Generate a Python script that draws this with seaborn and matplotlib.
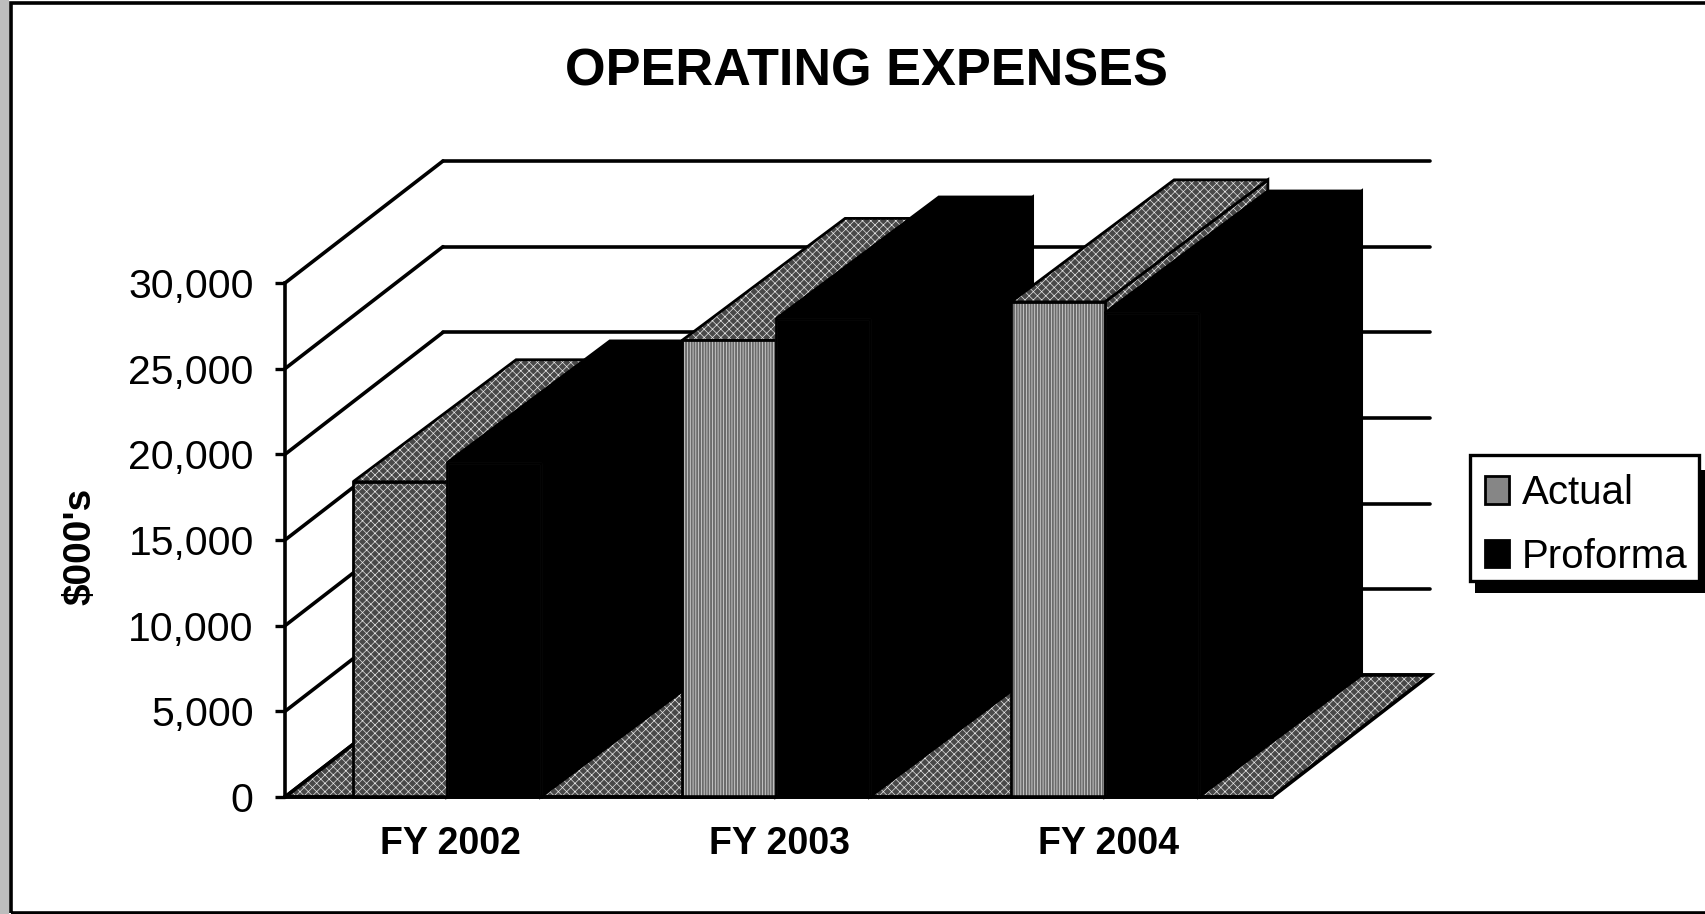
import matplotlib
matplotlib.use('Agg')
import matplotlib.pyplot as plt
import pandas as pd
import seaborn as sns
from matplotlib.patches import Patch, Polygon, Rectangle
from matplotlib.transforms import ScaledTranslation

# Chart values
years = ['FY 2002', 'FY 2003', 'FY 2004']
actual = [18400, 26650, 28900]
proforma = [19500, 27900, 28250]
y_ticks = [0, 5000, 10000, 15000, 20000, 25000, 30000]

GRAY = '#868686'
DITHER_BASE = '#484848'
DITHER_LINE = '#e6e6e6'
W, H = 1705, 914

df = pd.DataFrame({
    'year': years * 2,
    'series': ['Actual'] * 3 + ['Proforma'] * 3,
    'value': actual + proforma,
})

sns.set_style('white')
plt.rcParams['font.family'] = ['Liberation Sans', 'DejaVu Sans']
plt.rcParams['text.color'] = 'black'
plt.rcParams['hatch.linewidth'] = 0.5

fig = plt.figure(figsize=(W / 100, H / 100), dpi=100, facecolor='white')
# axes box is the front plane of the fake 3D chart
ax = fig.add_axes([285 / W, 1 - 797 / H, 987 / W, 514 / H])
ax.patch.set_alpha(0)

sns.barplot(data=df, x='year', y='value', hue='series',
            palette={'Actual': GRAY, 'Proforma': 'black'},
            width=0.57, gap=0, saturation=1, legend=False, ax=ax)
x_left, x_right = -0.492, 2.508
ax.set_xlim(x_left, x_right)
ax.set_ylim(0, 30000)

# bars from seaborn, left to right
bars = sorted(ax.patches, key=lambda p: p.get_x())
bars = [b for b in bars if b.get_height() > 0]

# depth of the 3D effect in data units
dx = 158 / 987 * 3
dx_bar = 163 / 987 * 3
dy = 122 / 514 * 30000


def add_face(pts, z, gray=True, lw=2.0):
    # stippled fill first, outline on top of it
    if gray:
        ax.add_patch(Polygon(pts, closed=True, facecolor=DITHER_BASE, edgecolor=DITHER_LINE,
                             linewidth=0, hatch='xxxx', clip_on=False, zorder=z))
    else:
        ax.add_patch(Polygon(pts, closed=True, facecolor='black', edgecolor='none',
                             clip_on=False, zorder=z))
    ax.add_patch(Polygon(pts, closed=True, fill=False, edgecolor='black', lw=lw,
                         clip_on=False, zorder=z))


# walls
for t in y_ticks:
    ax.plot([x_left, x_left + dx], [t, t + dy], color='black', lw=2.6, clip_on=False, zorder=1)
    ax.plot([x_left + dx, x_right + dx], [t + dy, t + dy], color='black', lw=2.6, clip_on=False, zorder=1)

# floor
add_face([(x_left, 0), (x_right, 0), (x_right + dx, dy), (x_left + dx, dy)], 2, lw=2.6)

# side and top of each bar, painted left to right
for i, bar in enumerate(bars):
    x0, w, h = bar.get_x(), bar.get_width(), bar.get_height()
    is_gray = i % 2 == 0
    z = 5 + i * 2
    add_face([(x0 + w, 0), (x0 + w + dx_bar, dy), (x0 + w + dx_bar, h + dy), (x0 + w, h)], z, is_gray)
    add_face([(x0, h), (x0 + w, h), (x0 + w + dx_bar, h + dy), (x0 + dx_bar, h + dy)], z, is_gray)
    bar.set_zorder(z + 1)
    bar.set_clip_on(False)
    if is_gray:
        # the scan shows vertical stripes on the two taller grey bars
        bar.set_facecolor(DITHER_BASE if i == 0 else '#6c6c6c')
        bar.set_edgecolor(DITHER_LINE)
        bar.set_linewidth(0)
        bar.set_hatch('xxxx' if i == 0 else '||||||')
    ax.add_patch(Polygon([(x0, 0), (x0 + w, 0), (x0 + w, h), (x0, h)], closed=True, fill=False,
                         edgecolor='black', lw=2.0, clip_on=False, zorder=z + 1))

for s in ['top', 'right']:
    ax.spines[s].set_visible(False)
for s in ['left', 'bottom']:
    ax.spines[s].set_linewidth(2.6)
    ax.spines[s].set_color('black')
    ax.spines[s].set_zorder(30)

ax.set_yticks(y_ticks)
ax.set_yticklabels([f'{t:,}' for t in y_ticks])
ax.tick_params(axis='y', left=True, length=7.5, width=2.4, labelsize=29.5, pad=15,
               color='black', labelcolor='black')
ax.tick_params(axis='x', bottom=False, labelsize=27, pad=17.5, labelcolor='black')
# labels sit a little right of the bar pairs in the reference
label_shift = ScaledTranslation(4 / 100, 0, fig.dpi_scale_trans)
for lab in ax.get_xticklabels():
    lab.set_fontweight('bold')
    lab.set_transform(lab.get_transform() + label_shift)
ax.set_xlabel('')
ax.set_ylabel('')

fig.text(866 / W, 1 - 72 / H, 'OPERATING EXPENSES', fontsize=37.6, fontweight='bold',
         ha='center', va='center')
fig.text(80 / W, 1 - 546 / H, "$000's", fontsize=28, fontweight='bold', rotation=90,
         ha='center', va='center')

# legend box and its hard shadow
fig.add_artist(Rectangle((1475 / W, 1 - 593 / H), 230 / W, 123 / H, transform=fig.transFigure,
                         facecolor='black', edgecolor='none', zorder=3))
fig.add_artist(Rectangle((1469.5 / W, 1 - 580.5 / H), 229 / W, 126 / H, transform=fig.transFigure,
                         facecolor='white', edgecolor='black', lw=2.4, zorder=4))
handles = [Patch(facecolor=GRAY, edgecolor='black', lw=2.0, label='Actual'),
           Patch(facecolor='black', edgecolor='black', lw=2.0, label='Proforma')]
fig.legend(handles=handles, loc='center left', bbox_to_anchor=(1485 / W, 1 - 525 / H),
           bbox_transform=fig.transFigure, fontsize=29, frameon=False,
           handlelength=0.6, handleheight=0.67, handletextpad=0.32, labelspacing=0.63,
           borderpad=0, borderaxespad=0).set_zorder(5)

# outer chart border and the stippled page edge
fig.add_artist(Rectangle((0, 0), 9 / W, 1, transform=fig.transFigure, facecolor='#bdbdbd', edgecolor='none'))
fig.add_artist(Rectangle((11 / W, 1 / H), (W + 20) / W, (H - 4) / H, transform=fig.transFigure,
                         facecolor='none', edgecolor='black', lw=2.6))

fig.savefig('out.png', dpi=100)
